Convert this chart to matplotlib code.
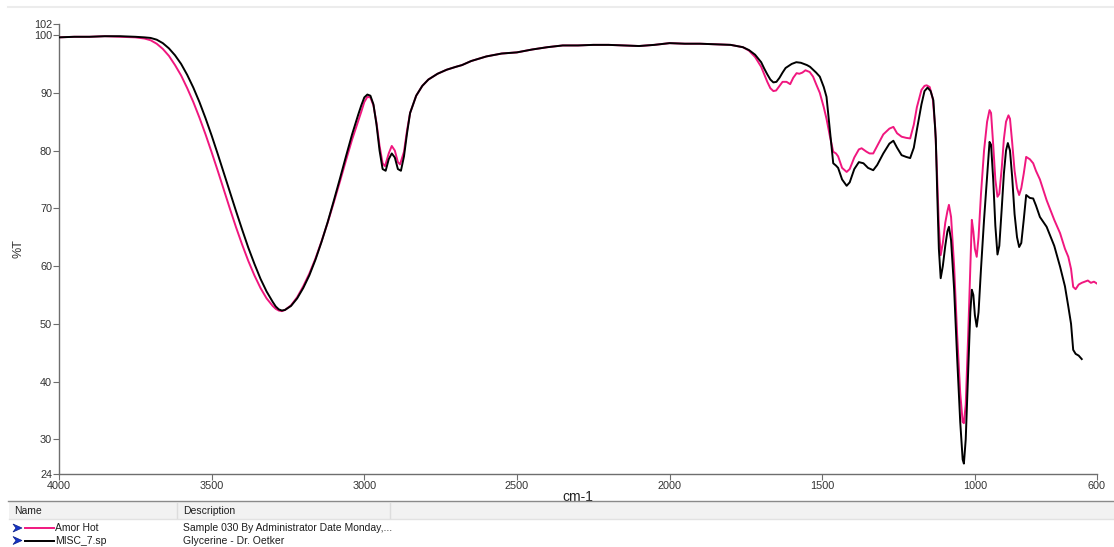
import matplotlib
matplotlib.use("Agg")
import matplotlib.pyplot as plt
from matplotlib.lines import Line2D
from matplotlib.patches import Rectangle, Polygon

plt.rcParams["font.family"] = ["Liberation Sans", "DejaVu Sans"]

# ---- spectra: wavenumber (cm-1) and transmittance (%T) ----
glycerine_wn = [
    4000, 3950, 3900, 3850, 3800, 3750, 3720, 3700, 3680, 3660, 3640, 3620, 3600,
    3580, 3560, 3540, 3520, 3500, 3480, 3460, 3440, 3420, 3400, 3380, 3360, 3340,
    3320, 3300, 3290, 3280, 3270, 3260, 3240, 3220, 3200, 3180, 3160, 3140, 3120,
    3100, 3080, 3060, 3040, 3020, 3010, 3000, 2990, 2980, 2970, 2960, 2950, 2940,
    2930, 2920, 2910, 2900, 2890, 2880, 2870, 2860, 2850, 2830, 2810, 2790, 2760,
    2730, 2700, 2680, 2650, 2600, 2550, 2500, 2450, 2400, 2350, 2300, 2250, 2200,
    2150, 2100, 2050, 2000, 1950, 1900, 1850, 1800, 1760, 1740, 1720, 1700, 1690,
    1680, 1670, 1660, 1650, 1640, 1630, 1620, 1600, 1585, 1570, 1550, 1540, 1520,
    1508, 1495, 1486, 1475, 1464, 1455, 1448, 1435, 1420, 1410, 1395, 1380, 1365,
    1350, 1333, 1320, 1300, 1280, 1267, 1255, 1240, 1225, 1212, 1200, 1190, 1175,
    1165, 1155, 1145, 1136, 1128, 1123, 1118, 1112, 1105, 1097, 1090, 1085, 1078,
    1068, 1058, 1048, 1040, 1036, 1030, 1022, 1015, 1010, 1005, 1000, 994, 988,
    980, 970, 960, 952, 947, 940, 933, 926, 920, 912, 905, 898, 892, 885, 878,
    870, 862, 855, 848, 840, 832, 820, 809, 800, 787, 765, 740, 721, 705, 694,
    685, 678, 670, 660, 650,
]
glycerine_t = [
    99.6, 99.7, 99.7, 99.8, 99.8, 99.7, 99.6, 99.5, 99.2, 98.6, 97.7, 96.5, 95.0,
    93.1, 90.9, 88.4, 85.6, 82.6, 79.4, 76.1, 72.8, 69.5, 66.3, 63.2, 60.4, 57.8,
    55.6, 53.8, 53.0, 52.5, 52.3, 52.4, 53.1, 54.4, 56.2, 58.4, 61.1, 64.2, 67.6,
    71.3, 75.1, 79.0, 82.8, 86.2, 87.8, 89.2, 89.7, 89.5, 88.0, 84.5, 80.0, 76.8,
    76.5, 78.5, 79.5, 78.8, 76.8, 76.5, 79.0, 83.0, 86.5, 89.5, 91.2, 92.3, 93.3,
    94.0, 94.5, 94.8, 95.5, 96.3, 96.8, 97.0, 97.5, 97.9, 98.2, 98.2, 98.3, 98.3,
    98.2, 98.1, 98.3, 98.6, 98.5, 98.5, 98.4, 98.3, 97.9, 97.4, 96.6, 95.3, 94.2,
    93.2, 92.3, 91.8, 91.9, 92.6, 93.5, 94.3, 95.0, 95.3, 95.2, 94.8, 94.5, 93.5,
    92.8, 91.0, 89.3, 83.6, 77.8, 77.4, 77.0, 75.0, 73.9, 74.5, 76.8, 78.0, 77.8,
    77.0, 76.6, 77.5, 79.5, 81.2, 81.7, 80.5, 79.2, 78.9, 78.7, 80.5, 83.6, 88.0,
    90.3, 90.9, 90.3, 88.7, 82.0, 72.0, 63.0, 57.9, 60.0, 63.5, 66.0, 66.8, 64.5,
    56.0, 44.0, 33.0, 26.5, 25.8, 30.0, 42.0, 52.0, 55.9, 55.0, 51.5, 49.5, 52.0,
    59.5, 68.0, 75.5, 81.5, 81.0, 75.0, 67.0, 62.0, 63.5, 70.0, 76.0, 80.0, 81.3,
    80.0, 75.5, 69.0, 65.0, 63.3, 64.0, 68.0, 72.3, 71.8, 71.7, 70.5, 68.5, 66.8,
    63.5, 59.9, 56.5, 53.0, 50.0, 45.5, 44.8, 44.5, 43.9,
]

amor_wn = [
    4000, 3950, 3900, 3850, 3800, 3750, 3720, 3700, 3680, 3660, 3640, 3620, 3600,
    3580, 3560, 3540, 3520, 3500, 3480, 3460, 3440, 3420, 3400, 3380, 3360, 3340,
    3320, 3300, 3290, 3280, 3270, 3260, 3240, 3220, 3200, 3180, 3160, 3140, 3120,
    3100, 3080, 3060, 3040, 3020, 3010, 3000, 2990, 2980, 2970, 2960, 2950, 2940,
    2932, 2920, 2910, 2900, 2890, 2883, 2870, 2860, 2850, 2830, 2810, 2790, 2760,
    2730, 2700, 2680, 2650, 2600, 2550, 2500, 2450, 2400, 2350, 2300, 2250, 2200,
    2150, 2100, 2050, 2000, 1950, 1900, 1850, 1800, 1760, 1740, 1720, 1700, 1690,
    1680, 1670, 1660, 1651, 1640, 1630, 1617, 1605, 1595, 1584, 1575, 1565, 1555,
    1541, 1530, 1520, 1508, 1495, 1486, 1475, 1464, 1455, 1448, 1435, 1420, 1410,
    1395, 1380, 1371, 1355, 1345, 1333, 1320, 1300, 1280, 1267, 1255, 1240, 1225,
    1212, 1200, 1190, 1175, 1165, 1158, 1148, 1138, 1130, 1124, 1118, 1112, 1105,
    1097, 1090, 1085, 1078, 1068, 1058, 1048, 1040, 1036, 1030, 1022, 1015, 1010,
    1005, 1000, 994, 988, 980, 970, 960, 952, 947, 940, 933, 926, 920, 912, 905,
    898, 890, 885, 878, 870, 862, 855, 848, 840, 832, 820, 809, 800, 787, 765,
    740, 721, 705, 694, 685, 678, 670, 660, 650, 640, 630, 620, 610, 601,
]
amor_t = [
    99.6, 99.7, 99.7, 99.8, 99.7, 99.6, 99.4, 99.1, 98.5, 97.6, 96.4, 94.8, 93.0,
    90.8, 88.4, 85.7, 82.8, 79.7, 76.5, 73.2, 69.9, 66.7, 63.7, 60.9, 58.4, 56.2,
    54.4, 53.1, 52.6, 52.3, 52.2, 52.4, 53.2, 54.6, 56.5, 58.7, 61.3, 64.3, 67.5,
    71.0, 74.6, 78.3, 81.9, 85.1, 86.7, 88.4, 89.3, 89.2, 87.8, 84.8, 80.8, 77.8,
    77.3, 79.5, 80.8, 80.0, 78.0, 77.6, 79.8, 83.5, 86.5, 89.5, 91.2, 92.3, 93.3,
    94.0, 94.5, 94.8, 95.5, 96.3, 96.8, 97.0, 97.5, 97.9, 98.2, 98.2, 98.3, 98.3,
    98.2, 98.1, 98.3, 98.6, 98.5, 98.5, 98.4, 98.3, 97.9, 97.3, 96.2, 94.5, 93.2,
    91.9, 90.8, 90.3, 90.4, 91.2, 91.9, 91.9, 91.5, 92.6, 93.4, 93.3, 93.5, 93.9,
    93.6, 92.8, 91.5, 90.0, 87.5, 85.5, 82.5, 79.8, 79.5, 79.0, 77.0, 76.3, 76.8,
    78.8, 80.2, 80.4, 79.8, 79.5, 79.5, 80.8, 82.8, 83.8, 84.1, 83.0, 82.4, 82.2,
    82.1, 84.5, 87.5, 90.5, 91.2, 91.3, 91.0, 89.0, 84.0, 76.0, 67.0, 61.9, 64.0,
    67.5, 69.5, 70.6, 68.5, 60.0, 48.0, 38.0, 33.0, 32.8, 36.0, 48.0, 60.0, 68.0,
    66.0, 63.0, 61.6, 65.0, 72.5, 80.0, 85.0, 87.0, 86.5, 81.0, 75.0, 72.0, 72.5,
    77.0, 82.0, 85.0, 86.1, 85.5, 81.5, 76.5, 73.5, 72.3, 73.5, 76.0, 78.9, 78.5,
    77.8, 76.5, 75.0, 71.4, 68.0, 65.7, 63.0, 61.6, 59.5, 56.4, 56.0, 56.8, 57.1,
    57.3, 57.5, 57.1, 57.3, 57.0,
]

x_ticks = [4000, 3500, 3000, 2500, 2000, 1500, 1000, 600]
y_ticks = [24, 30, 40, 50, 60, 70, 80, 90, 100, 102]

series_names = ["Amor Hot", "MISC_7.sp"]
series_desc = ["Sample 030 By Administrator Date Monday,...", "Glycerine - Dr. Oetker"]
series_colors = ["#f0177f", "#000000"]

W, H = 1114, 547
fig = plt.figure(figsize=(W / 100, H / 100), dpi=100)


def fx(x):
    return x / W


def fy(y):
    return 1 - y / H


ax = fig.add_axes([fx(59), fy(474), fx(1097) - fx(59), fy(23.5) - fy(474)])
ax.plot(amor_wn, amor_t, color=series_colors[0], lw=1.4, zorder=2)
ax.plot(glycerine_wn, glycerine_t, color=series_colors[1], lw=1.4, zorder=3)

ax.set_xlim(4000, 600)
ax.set_ylim(24, 102)
ax.set_xticks(x_ticks)
ax.set_yticks(y_ticks)
ax.set_xticklabels([str(v) for v in x_ticks])
ax.set_yticklabels([str(v) for v in y_ticks])
for s in ["top", "right"]:
    ax.spines[s].set_visible(False)
for s in ["left", "bottom"]:
    ax.spines[s].set_color("#6e6e6e")
    ax.spines[s].set_linewidth(1.0)
ax.tick_params(direction="out", length=4, width=0.8, color="#6e6e6e",
               labelsize=7.8, labelcolor="#333333", pad=1)
ax.set_xlabel("cm-1", fontsize=10, color="#222222", labelpad=-1)
ax.set_ylabel("%T", fontsize=9, color="#333333")
ax.yaxis.set_label_coords(-0.033, 0.5)

# window frame line at the top
fig.add_artist(Line2D([fx(8), fx(W)], [fy(7), fy(7)], transform=fig.transFigure,
                      color="#ececec", lw=1.5))

# series table below the plot
table_font = ["Liberation Sans", "DejaVu Sans"]
fig.add_artist(Line2D([fx(8), fx(W)], [fy(501), fy(501)], transform=fig.transFigure,
                      color="#8a8a8a", lw=1.0))
fig.add_artist(Rectangle((fx(9), fy(519)), fx(W) - fx(9), fy(502) - fy(519),
                         transform=fig.transFigure, facecolor="#f2f2f2",
                         edgecolor="none"))
fig.add_artist(Line2D([fx(9), fx(W)], [fy(519), fy(519)], transform=fig.transFigure,
                      color="#e2e2e2", lw=1.0))
for xs in (177, 390):
    fig.add_artist(Line2D([fx(xs), fx(xs)], [fy(503), fy(518)],
                          transform=fig.transFigure, color="#dddddd", lw=1.0))
fig.text(fx(14), fy(510.5), "Name", fontsize=7.5, color="#1e1e1e",
         va="center", ha="left", family=table_font)
fig.text(fx(183), fy(510.5), "Description", fontsize=7.5, color="#1e1e1e",
         va="center", ha="left", family=table_font)

for i, (name, desc, col) in enumerate(zip(series_names, series_desc, series_colors)):
    yc = 528 + 12.5 * i
    fig.add_artist(Polygon([(fx(13), fy(yc - 4)), (fx(22), fy(yc)),
                            (fx(13), fy(yc + 4)), (fx(16), fy(yc))],
                           closed=True, transform=fig.transFigure,
                           facecolor="#1533c8", edgecolor="#0a1f8a", lw=0.5))
    fig.add_artist(Line2D([fx(25), fx(54)], [fy(yc), fy(yc)],
                          transform=fig.transFigure, color=col, lw=1.4))
    fig.text(fx(55), fy(yc), name, fontsize=7.5, color="#1e1e1e", va="center",
             ha="left", family=table_font)
    fig.text(fx(183), fy(yc), desc, fontsize=7.5, color="#1e1e1e", va="center",
             ha="left", family=table_font)

fig.savefig("out.png", dpi=100)
